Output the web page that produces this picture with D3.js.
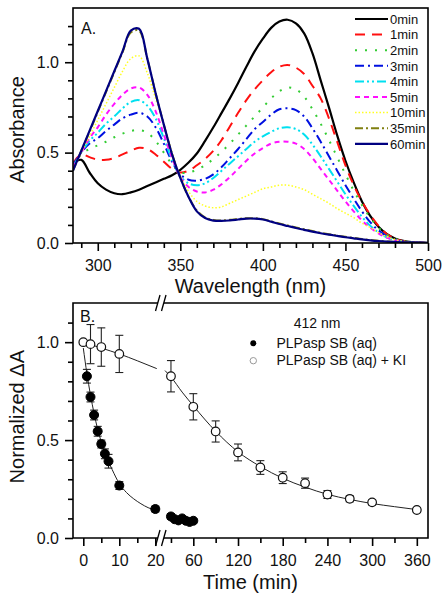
<!DOCTYPE html>
<html><head><meta charset="utf-8">
<script src="https://cdn.jsdelivr.net/npm/d3@7"></script>
<style>body{margin:0;background:#fff}svg{display:block}text{font-family:"Liberation Sans",Arial,sans-serif;fill:#111}</style>
</head><body><svg id="c" width="448" height="600"></svg>
<script>
// ---------- Panel A data ----------
const wavelengths = [285,290,295,300,305,310,315,320,325,330,335,340,345,350,355,360,365,370,375,380,385,390,395,400,405,410,415,420,425,430,435,440,445,450,455,460,465,470,475,480,485,490,495,500];
const seriesNames = ["0min","1min","2min","3min","4min","5min","10min","35min","60min"];
const abs0min  = [0.44,0.46,0.39,0.33,0.295,0.275,0.27,0.28,0.295,0.315,0.335,0.355,0.375,0.405,0.445,0.495,0.565,0.64,0.72,0.80,0.885,0.975,1.06,1.13,1.19,1.225,1.235,1.215,1.16,1.05,0.90,0.75,0.595,0.455,0.335,0.23,0.15,0.09,0.05,0.025,0.012,0.005,0.002,0.0];
const abs1min  = [0.44,0.49,0.475,0.46,0.46,0.47,0.49,0.51,0.527,0.52,0.49,0.45,0.41,0.39,0.40,0.43,0.465,0.51,0.57,0.645,0.72,0.79,0.85,0.90,0.945,0.975,0.985,0.97,0.935,0.87,0.80,0.69,0.56,0.43,0.32,0.23,0.155,0.095,0.05,0.024,0.01,0.004,0.002,0.0];
const abs2min  = [0.43,0.49,0.52,0.54,0.56,0.585,0.605,0.62,0.625,0.61,0.565,0.50,0.435,0.39,0.39,0.405,0.43,0.465,0.505,0.55,0.60,0.65,0.70,0.75,0.80,0.84,0.86,0.85,0.81,0.74,0.66,0.57,0.475,0.38,0.29,0.21,0.14,0.085,0.046,0.022,0.01,0.004,0.002,0.0];
const abs3min  = [0.43,0.50,0.55,0.58,0.62,0.655,0.69,0.71,0.72,0.70,0.64,0.55,0.45,0.38,0.35,0.345,0.355,0.38,0.42,0.47,0.52,0.575,0.63,0.67,0.71,0.74,0.745,0.735,0.70,0.635,0.56,0.48,0.40,0.32,0.245,0.175,0.115,0.07,0.038,0.018,0.008,0.003,0.001,0.0];
const abs4min  = [0.42,0.50,0.565,0.61,0.66,0.70,0.745,0.78,0.79,0.76,0.69,0.58,0.46,0.37,0.33,0.32,0.33,0.36,0.40,0.44,0.48,0.52,0.56,0.59,0.615,0.635,0.64,0.63,0.60,0.545,0.48,0.41,0.34,0.27,0.205,0.145,0.095,0.058,0.032,0.016,0.007,0.003,0.001,0.0];
const abs5min  = [0.42,0.50,0.58,0.64,0.71,0.77,0.82,0.855,0.86,0.82,0.73,0.60,0.47,0.365,0.31,0.285,0.28,0.295,0.325,0.365,0.41,0.455,0.495,0.525,0.55,0.56,0.56,0.55,0.52,0.47,0.41,0.35,0.29,0.23,0.175,0.125,0.085,0.053,0.03,0.015,0.007,0.003,0.001,0.0];
const abs10min = [0.41,0.50,0.59,0.68,0.77,0.86,0.95,1.02,1.035,0.94,0.80,0.66,0.50,0.37,0.285,0.23,0.205,0.195,0.20,0.22,0.24,0.26,0.28,0.30,0.31,0.32,0.32,0.31,0.295,0.27,0.245,0.22,0.19,0.165,0.14,0.11,0.085,0.058,0.035,0.02,0.01,0.005,0.002,0.0];
const abs35min = [0.40,0.51,0.615,0.725,0.835,0.945,1.055,1.165,1.175,1.02,0.83,0.655,0.49,0.36,0.255,0.18,0.142,0.128,0.125,0.128,0.133,0.137,0.137,0.132,0.12,0.108,0.097,0.086,0.076,0.066,0.057,0.049,0.041,0.034,0.028,0.022,0.017,0.012,0.009,0.006,0.004,0.003,0.002,0.001];
const abs60min = [0.40,0.51,0.62,0.73,0.84,0.95,1.06,1.175,1.185,1.02,0.83,0.655,0.49,0.36,0.255,0.175,0.138,0.124,0.122,0.125,0.13,0.135,0.135,0.13,0.118,0.105,0.094,0.083,0.073,0.063,0.054,0.046,0.039,0.032,0.026,0.02,0.015,0.011,0.008,0.006,0.004,0.003,0.002,0.001];
const seriesColors = ["#000000","#ff1010","#33cc33","#0010e0","#00e0f0","#ff10ff","#ffff20","#808010","#000080"];
const seriesDash = ["", "10,7", "2,8", "9,4,2,4", "9,3,2,3,2,3", "5,4", "1.5,2", "8,3,2,3", ""];
const seriesWidth = [2.2, 2, 2, 2, 2, 2, 1.5, 2, 2.2];
const xTicksA = [300,350,400,450,500];
const xMinorA = [290,310,320,330,340,360,370,380,390,410,420,430,440,460,470,480,490];
const yTicksA = [0,0.5,1.0];
const yMinorA = [0.1,0.2,0.3,0.4,0.6,0.7,0.8,0.9,1.1,1.2];

// ---------- Panel B data ----------
const timesSB  = [1,2,3,4,5,6,7,10,20,30,35,40,45,50,55,60];
const valuesSB = [0.826,0.72,0.628,0.545,0.48,0.43,0.392,0.268,0.148,0.11,0.096,0.09,0.1,0.088,0.082,0.088];
const errSB    = [0.035,0.025,0.025,0.025,0.02,0.025,0.035,0.02,0.015,0.015,0.01,0.01,0.01,0.01,0.01,0.01];
const timesKI  = [0,2,5,10,30,60,90,120,150,180,210,240,270,300,360];
const valuesKI = [1.0,0.99,0.975,0.94,0.826,0.67,0.544,0.437,0.36,0.308,0.28,0.222,0.2,0.182,0.143];
const errKI    = [0,0.1,0.098,0.095,0.08,0.067,0.054,0.043,0.035,0.03,0.026,0.02,0.015,0.013,0.01];
const fitSBTimes  = [0,1,2,3,4,5,6,7,8,10,12,14,16,18,20];
const fitSBValues = [0.97,0.84,0.73,0.635,0.555,0.49,0.435,0.39,0.35,0.278,0.232,0.2,0.175,0.155,0.142];
const fitKITimes  = [0,5,10,15,20.4,22,30,45,60,90,120,150,180,210,240,270,300,330,360];
const fitKIValues = [1.0,0.97,0.94,0.905,0.865,0.855,0.822,0.745,0.675,0.545,0.44,0.365,0.305,0.26,0.223,0.197,0.176,0.16,0.145];
const xTicksB1 = [0,10,20];
const xMinorB1 = [5,15];
const xTicksB2 = [60,120,180,240,300,360];
const xMinorB2 = [30,90,150,210,270,330];
const yTicksB = [0,0.5,1.0];
const yMinorB = [0.1,0.2,0.3,0.4,0.6,0.7,0.8,0.9,1.1];

const svg = d3.select("#c");
const fmt1 = d3.format(".1f");
const AX = 1.6;

function styleAxis(g){
  g.select(".domain").remove();
  g.selectAll("line").attr("stroke","#000").attr("stroke-width",AX);
  g.selectAll("text").attr("font-size",16).attr("fill","#111").style("font-family",'"Liberation Sans",Arial,sans-serif');
}

// ================= Panel A =================
const xA = d3.scaleLinear([285,500],[73,428]);
const yA = d3.scaleLinear([0,1.3],[243,8]);
svg.append("defs").append("clipPath").attr("id","clipA").append("rect").attr("x",73).attr("y",8).attr("width",355).attr("height",235);

svg.append("g").attr("transform","translate(0,243)").call(d3.axisBottom(xA).tickValues(xMinorA).tickSize(5).tickFormat("")).call(styleAxis);
svg.append("g").attr("transform","translate(0,243)").call(d3.axisBottom(xA).tickValues(xTicksA).tickSize(8).tickPadding(9).tickFormat(d3.format("d"))).call(styleAxis);
svg.append("g").attr("transform","translate(73,0)").call(d3.axisLeft(yA).tickValues(yMinorA).tickSize(5).tickFormat("")).call(styleAxis);
svg.append("g").attr("transform","translate(73,0)").call(d3.axisLeft(yA).tickValues(yTicksA).tickSize(8).tickPadding(6).tickFormat(fmt1)).call(styleAxis);

const allSeries = [abs0min,abs1min,abs2min,abs3min,abs4min,abs5min,abs10min,abs35min,abs60min];
const lineA = d3.line().x(d=>xA(d[0])).y(d=>yA(d[1])).curve(d3.curveCatmullRom.alpha(0.5));
const gA = svg.append("g").attr("clip-path","url(#clipA)");
allSeries.forEach((s,i)=>{
  gA.append("path").datum(wavelengths.map((w,j)=>[w,s[j]]))
    .attr("d",lineA).attr("fill","none").attr("stroke",seriesColors[i])
    .attr("stroke-width",seriesWidth[i]).attr("stroke-dasharray",seriesDash[i] || null);
});
svg.append("rect").attr("x",73).attr("y",8).attr("width",355).attr("height",235).attr("fill","none").attr("stroke","#000").attr("stroke-width",AX);

// legend A
const legA = svg.append("g");
seriesNames.forEach((n,i)=>{
  const y = 19 + i*15.6;
  legA.append("line").attr("x1",355).attr("x2",388).attr("y1",y).attr("y2",y)
    .attr("stroke",seriesColors[i]).attr("stroke-width",seriesWidth[i]).attr("stroke-dasharray",seriesDash[i] || null);
  legA.append("text").attr("x",390).attr("y",y+4.7).attr("font-size",13).text(n);
});
svg.append("text").attr("x",81).attr("y",33.5).attr("font-size",16).text("A.");
svg.append("text").attr("x",250.5).attr("y",293).attr("text-anchor","middle").attr("font-size",20).text("Wavelength (nm)");
svg.append("text").attr("transform","translate(23.5,129.5) rotate(-90)").attr("text-anchor","middle").attr("font-size",20).text("Absorbance");

// ================= Panel B =================
const yB = d3.scaleLinear([0,1.2],[538,303]);
const xB1 = d3.scaleLinear([-2.86,20.47],[73,157]);
const xB2 = d3.scaleLinear([22,375],[165,428]);
const xB = t => t <= 21 ? xB1(t) : xB2(t);

svg.append("g").attr("transform","translate(0,538)").call(d3.axisBottom(xB1).tickValues(xMinorB1).tickSize(5).tickFormat("")).call(styleAxis);
svg.append("g").attr("transform","translate(0,538)").call(d3.axisBottom(xB1).tickValues(xTicksB1).tickSize(8).tickPadding(9).tickFormat(d3.format("d"))).call(styleAxis);
svg.append("g").attr("transform","translate(0,538)").call(d3.axisBottom(xB2).tickValues(xMinorB2).tickSize(5).tickFormat("")).call(styleAxis);
svg.append("g").attr("transform","translate(0,538)").call(d3.axisBottom(xB2).tickValues(xTicksB2).tickSize(8).tickPadding(9).tickFormat(d3.format("d"))).call(styleAxis);
svg.append("g").attr("transform","translate(73,0)").call(d3.axisLeft(yB).tickValues(yMinorB).tickSize(5).tickFormat("")).call(styleAxis);
svg.append("g").attr("transform","translate(73,0)").call(d3.axisLeft(yB).tickValues(yTicksB).tickSize(8).tickPadding(6).tickFormat(fmt1)).call(styleAxis);

// frame with breaks
const frame = svg.append("g").attr("stroke","#000").attr("stroke-width",AX).attr("fill","none");
frame.append("path").attr("d","M158,538 H73 V303 H158");
frame.append("path").attr("d","M164,538 H428 V303 H164");
[[303],[538]].forEach(([y])=>{
  frame.append("line").attr("x1",155.5).attr("x2",160).attr("y1",y+8).attr("y2",y-8).attr("stroke-width",1.3);
  frame.append("line").attr("x1",161.5).attr("x2",166).attr("y1",y+8).attr("y2",y-8).attr("stroke-width",1.3);
});

// fit lines
const clipB = svg.append("defs");
clipB.append("clipPath").attr("id","clipB1").append("rect").attr("x",73).attr("y",303).attr("width",85).attr("height",235);
clipB.append("clipPath").attr("id","clipB2").append("rect").attr("x",164).attr("y",303).attr("width",264).attr("height",235);
const fitLine1 = d3.line().x(d=>xB1(d[0])).y(d=>yB(d[1])).curve(d3.curveMonotoneX);
const fitLine2 = d3.line().x(d=>xB2(d[0])).y(d=>yB(d[1])).curve(d3.curveMonotoneX);
const ki = fitKITimes.map((t,i)=>[t,fitKIValues[i]]);
const sb = fitSBTimes.map((t,i)=>[t,fitSBValues[i]]);
svg.append("path").datum(ki.filter(d=>d[0]<=20.5)).attr("d",fitLine1).attr("clip-path","url(#clipB1)").attr("fill","none").attr("stroke","#222").attr("stroke-width",1);
svg.append("path").datum(ki.filter(d=>d[0]>=22)).attr("d",fitLine2).attr("clip-path","url(#clipB2)").attr("fill","none").attr("stroke","#222").attr("stroke-width",1);
svg.append("path").datum(sb).attr("d",fitLine1).attr("clip-path","url(#clipB1)").attr("fill","none").attr("stroke","#222").attr("stroke-width",1);

// error bars + markers
function errBars(times, vals, errs){
  const g = svg.append("g").attr("stroke","#222").attr("stroke-width",1.1);
  times.forEach((t,i)=>{
    if(!errs[i]) return;
    const x = xB(t), y1 = yB(vals[i]+errs[i]), y2 = yB(vals[i]-errs[i]);
    g.append("line").attr("x1",x).attr("x2",x).attr("y1",y1).attr("y2",y2);
    g.append("line").attr("x1",x-4).attr("x2",x+4).attr("y1",y1).attr("y2",y1);
    g.append("line").attr("x1",x-4).attr("x2",x+4).attr("y1",y2).attr("y2",y2);
  });
}
errBars(timesKI, valuesKI, errKI);
errBars(timesSB, valuesSB, errSB);
svg.append("g").selectAll("circle").data(timesKI).join("circle")
  .attr("cx",d=>xB(d)).attr("cy",(d,i)=>yB(valuesKI[i])).attr("r",4.3)
  .attr("fill","#fff").attr("stroke","#111").attr("stroke-width",1.2);
svg.append("g").selectAll("circle").data(timesSB).join("circle")
  .attr("cx",d=>xB(d)).attr("cy",(d,i)=>yB(valuesSB[i])).attr("r",4.5)
  .attr("fill","#000").attr("stroke","#000").attr("stroke-width",1);

// legend B
svg.append("text").attr("x",317).attr("y",328).attr("text-anchor","middle").attr("font-size",14).text("412 nm");
svg.append("circle").attr("cx",253.3).attr("cy",343.3).attr("r",3).attr("fill","#000");
svg.append("text").attr("x",276.5).attr("y",347.5).attr("font-size",14).text("PLPasp SB (aq)");
svg.append("circle").attr("cx",253.3).attr("cy",360.7).attr("r",3.2).attr("fill","#fff").attr("stroke","#999").attr("stroke-width",1);
svg.append("text").attr("x",276.5).attr("y",365).attr("font-size",14).text("PLPasp SB (aq) + KI");

svg.append("text").attr("x",80).attr("y",321.7).attr("font-size",16).text("B.");
svg.append("text").attr("x",250.5).attr("y",589).attr("text-anchor","middle").attr("font-size",20).text("Time (min)");
svg.append("text").attr("transform","translate(23.5,416.7) rotate(-90)").attr("text-anchor","middle").attr("font-size",20).text("Normalized \u0394A");
</script></body></html>
